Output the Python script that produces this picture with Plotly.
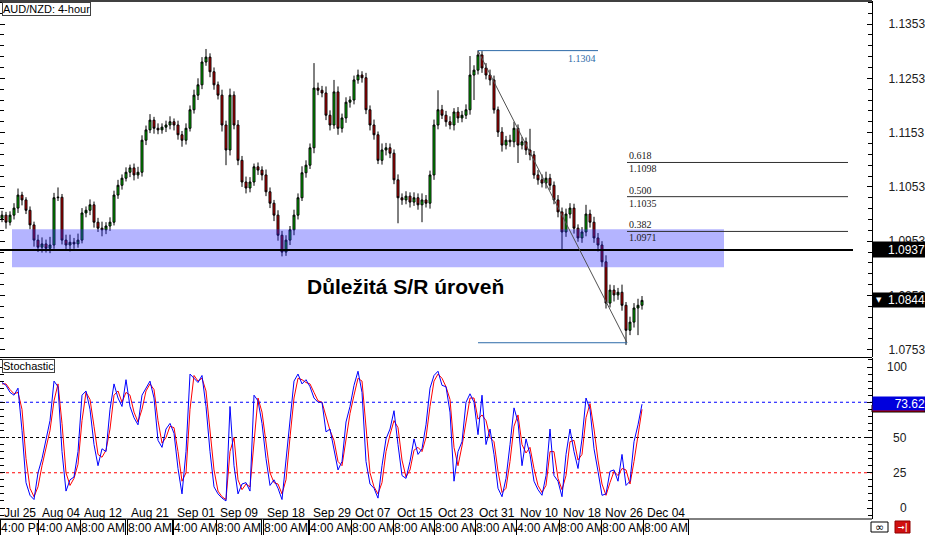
import plotly.graph_objects as go

# ---------------- data ----------------
closes = [
    1.1001, 1.0988, 1.1001, 1.1014, 1.1038, 1.1029, 1.1010, 1.0983, 1.0955, 1.0942,
    1.0948, 1.0940, 1.0946, 1.1033, 1.1034, 1.0955, 1.0946, 1.0951, 1.0948, 1.0955,
    1.1005, 1.1010, 1.1020, 1.0988, 1.0977, 1.0974, 1.0981, 1.0988, 1.1038, 1.1056,
    1.1069, 1.1080, 1.1088, 1.1075, 1.1080, 1.1139, 1.1158, 1.1176, 1.1161, 1.1158,
    1.1163, 1.1167, 1.1173, 1.1167, 1.1149, 1.1139, 1.1161, 1.1195, 1.1222, 1.1241,
    1.1283, 1.1292, 1.1265, 1.1241, 1.1222, 1.1167, 1.1121, 1.1222, 1.1167, 1.1102,
    1.1062, 1.1051, 1.1062, 1.1090, 1.1084, 1.1075, 1.1044, 1.1023, 1.1001, 1.0964,
    1.0933, 1.0955, 1.0974, 1.1001, 1.1033, 1.1079, 1.1093, 1.1125, 1.1235, 1.1231,
    1.1226, 1.1185, 1.1167, 1.1228, 1.1161, 1.1180, 1.1209, 1.1213, 1.1250, 1.1259,
    1.1254, 1.1195, 1.1167, 1.1149, 1.1102, 1.1121, 1.1125, 1.1115, 1.1066, 1.1033,
    1.1029, 1.1036, 1.1025, 1.1033, 1.1020, 1.1029, 1.1023, 1.1075, 1.1167, 1.1195,
    1.1185, 1.1173, 1.1167, 1.1191, 1.1180, 1.1185, 1.1195, 1.1259, 1.1268, 1.1296,
    1.1272, 1.1259, 1.1250, 1.1195, 1.1154, 1.1130, 1.1139, 1.1136, 1.1161, 1.1130,
    1.1136, 1.1121, 1.1112, 1.1075, 1.1066, 1.1060, 1.1069, 1.1056, 1.1029, 1.1007,
    1.0970, 1.1003, 1.1014, 1.0977, 1.0959, 1.0970, 1.1003, 1.0988, 1.0959, 1.0946,
    1.0915, 1.0839, 1.0863, 1.0854, 1.0859, 1.0835, 1.0789, 1.0804, 1.0830, 1.0835,
    1.0844,
]
first_open = 1.0995
upper_wick_pips = [
    8, 6, 7, 9, 12, 6, 5, 7, 6, 10,
    12, 8, 15, 9, 18, 6, 10, 14, 8, 12,
    9, 7, 10, 6, 8, 12, 7, 9, 8, 10,
    7, 9, 6, 8, 10, 9, 8, 11, 6, 9,
    7, 8, 10, 6, 8, 7, 9, 8, 10, 12,
    9, 15, 7, 8, 6, 10, 8, 12, 7, 9,
    8, 10, 9, 6, 8, 7, 10, 8, 6, 9,
    8, 9, 7, 10, 8, 12, 9, 8, 46, 10,
    8, 12, 9, 22, 10, 8, 9, 7, 8, 10,
    7, 9, 8, 10, 6, 12, 9, 8, 7, 10,
    8, 9, 7, 10, 8, 12, 9, 8, 10, 36,
    9, 8, 10, 7, 9, 8, 10, 35, 9, 8,
    7, 9, 10, 8, 6, 9, 8, 10, 12, 7,
    9, 8, 39, 7, 9, 10, 12, 8, 7, 9,
    8, 10, 9, 8, 7, 9, 17, 8, 10, 9,
    7, 12, 10, 9, 8, 14, 6, 10, 9, 12,
    8,
]
lower_wick_pips = [
    7, 12, 6, 8, 9, 10, 7, 8, 12, 9,
    10, 8, 9, 7, 6, 8, 10, 12, 9, 7,
    6, 8, 9, 10, 7, 12, 8, 9, 6, 7,
    8, 6, 9, 10, 7, 8, 9, 6, 10, 8,
    7, 9, 8, 10, 9, 12, 8, 6, 7, 9,
    8, 7, 10, 9, 8, 12, 28, 10, 8, 9,
    9, 10, 8, 7, 9, 10, 8, 9, 11, 10,
    8, 7, 9, 10, 8, 6, 9, 7, 10, 9,
    8, 9, 10, 7, 12, 8, 9, 10, 8, 7,
    9, 8, 10, 9, 7, 8, 10, 9, 8, 47,
    9, 8, 10, 7, 9, 32, 8, 10, 9, 8,
    7, 9, 8, 10, 9, 8, 7, 9, 46, 8,
    9, 8, 10, 7, 9, 12, 8, 9, 10, 33,
    8, 9, 10, 7, 9, 8, 10, 9, 8, 10,
    33, 9, 8, 10, 7, 9, 8, 10, 9, 12,
    9, 10, 8, 12, 9, 10, 27, 9, 10, 50,
    8,
]
stoch_k = [
    89, 87, 82, 80, 85, 55, 18, 9, 6, 25,
    35, 48, 62, 90, 86, 40, 12, 20, 22, 40,
    80, 83, 70, 45, 30, 42, 40, 70, 88, 78,
    72, 91, 72, 64, 59, 80, 85, 90, 78, 48,
    43, 56, 60, 53, 28, 10, 40, 95, 92, 89,
    94, 72, 40, 15, 10, 7, 5, 72, 30, 10,
    17, 18, 12, 80, 76, 60, 35, 16, 20, 14,
    6, 35, 65, 90, 95, 88, 91, 86, 78, 75,
    75, 54, 56, 40, 27, 33, 61, 72, 87, 97,
    82, 33, 17, 14, 7, 30, 49, 56, 69, 45,
    23, 21, 33, 49, 38, 42, 59, 85, 94, 97,
    87, 86, 68, 19, 40, 47, 75, 81, 75, 52,
    80, 45, 56, 38, 14, 8, 21, 45, 71, 61,
    30, 49, 38, 19, 13, 9, 23, 56, 23, 19,
    8, 38, 56, 40, 28, 49, 78, 70, 42, 26,
    9, 10, 26, 27, 19, 38, 16, 19, 47, 59,
    73.62,
]
stoch_d = [
    88, 88, 84, 81, 82, 70, 35, 14, 8, 15,
    30, 42, 55, 76, 88, 60, 25, 16, 21, 31,
    62, 82, 77, 58, 38, 36, 41, 56, 80, 83,
    75, 82, 80, 68, 61, 70, 83, 88, 84, 62,
    46, 50, 58, 57, 40, 19, 25, 70, 94, 90,
    92, 83, 56, 27, 12, 8, 6, 40, 50, 20,
    13, 17, 15, 48, 78, 68, 47, 25, 18, 17,
    10, 20, 50, 78, 92, 91, 89, 88, 82, 76,
    75, 64, 55, 48, 33, 30, 47, 67, 80, 92,
    90, 57, 25, 15, 10, 18, 40, 52, 62, 57,
    34, 22, 27, 41, 43, 40, 50, 72, 90, 95,
    92, 86, 77, 43, 30, 44, 61, 78, 78, 63,
    66, 62, 50, 47, 26, 11, 14, 33, 58, 66,
    45, 39, 43, 28, 16, 11, 16, 40, 40, 21,
    13, 23, 47, 48, 34, 38, 64, 74, 56, 34,
    17, 9, 18, 26, 23, 28, 27, 17, 33, 53,
    70,
]
price_ticks = [1.0753, 1.0853, 1.0953, 1.1053, 1.1153, 1.1253, 1.1353]
stoch_ticks = [0, 25, 50, 75, 100]
stoch_levels = [75, 50, 25]
date_labels = ["Jul 25", "Aug 04", "Aug 12", "Aug 21", "Sep 01", "Sep 09", "Sep 18", "Sep 29",
               "Oct 07", "Oct 15", "Oct 23", "Oct 31", "Nov 10", "Nov 18", "Nov 26", "Dec 04"]
date_idx = [0, 9.5, 20, 31.75, 43.25, 54, 65.75, 77.25, 87.75, 98.25, 108.5, 118.75,
            129, 139.75, 150.25, 160.75]
time_labels = ["4:00 PM", "4:00 AM", "8:00 AM", "8:00 AM", "4:00 AM", "8:00 AM", "8:00 AM",
               "4:00 AM", "8:00 AM", "8:00 AM", "8:00 AM", "8:00 AM", "4:00 AM", "8:00 AM",
               "8:00 AM", "8:00 AM"]
sr_level = 1.0937
sr_zone = [1.0905, 1.0975]
last_price = 1.0844
fib_high = 1.1304
fib_low = 1.0766
fib_high_idx = 119
fib_low_idx = 156.25
fib_ratios = ["0.382", "0.500", "0.618"]
fib_levels = [1.0971, 1.1035, 1.1098]

# ---------------- derived OHLC ----------------
n = len(closes)
xs = list(range(n))
opens = [first_open] + closes[:-1]
highs = [max(o, c) + u * 0.0001 for o, c, u in zip(opens, closes, upper_wick_pips)]
lows = [min(o, c) - d * 0.0001 for o, c, d in zip(opens, closes, lower_wick_pips)]

FONT = "Liberation Sans, Arial, sans-serif"
W, H = 925, 535
PL, PR, PT, PB = 0, 872, 1, 519      # plot area pixel box
PH = PB - PT

def px_x(px):
    return px / (PR - PL)

def px_y(py):
    return (PB - py) / PH

def idx(px):
    return (px - 2) / 4.0

fig = go.Figure()
fig.add_trace(go.Candlestick(
    x=xs, open=opens, high=highs, low=lows, close=closes,
    xaxis="x", yaxis="y",
    increasing=dict(line=dict(color="black", width=1), fillcolor="#00c800"),
    decreasing=dict(line=dict(color="black", width=1), fillcolor="#e00000"),
    whiskerwidth=0, showlegend=False, hoverinfo="skip",
))
fig.add_trace(go.Scatter(x=xs, y=stoch_d, mode="lines", line=dict(color="#ff0000", width=1),
                         xaxis="x2", yaxis="y2", showlegend=False, hoverinfo="skip"))
fig.add_trace(go.Scatter(x=xs, y=stoch_k, mode="lines", line=dict(color="#0000ff", width=1),
                         xaxis="x2", yaxis="y2", showlegend=False, hoverinfo="skip"))

xr = [idx(PL), idx(PR)]
main_dom = [px_y(357), 1]
stoch_dom = [0, px_y(358)]
main_rng = [1.1353 - (357 - 24) / 5430.0, 1.1353 + (24 - PT) / 5430.0]
stoch_rng = [-(PB - 508) / 1.41, (508 - 358) / 1.41]

axis_common = dict(showgrid=False, zeroline=False, fixedrange=True)
fig.update_layout(
    width=W, height=H,
    margin=dict(l=PL, r=W - PR, t=PT, b=H - PB, pad=0),
    paper_bgcolor="white", plot_bgcolor="white",
    font=dict(family=FONT, size=12, color="black"),
    xaxis=dict(domain=[0, 1], range=xr, anchor="y", showticklabels=False, ticks="",
               rangeslider=dict(visible=False), **axis_common),
    xaxis2=dict(domain=[0, 1], range=xr, anchor="y2", matches="x", showticklabels=False,
                ticks="", **axis_common),
    yaxis=dict(domain=main_dom, range=main_rng, side="right", anchor="x",
               tickmode="array", tickvals=price_ticks,
               ticktext=[f"{v:.4f}" for v in price_ticks],
               ticks="inside", ticklen=5, tickcolor="black", showline=True, linecolor="black",
               linewidth=1, mirror="ticks", ticklabelstandoff=13,
               tickfont=dict(size=12, color="#202020"), automargin=False,
               minor=dict(tickmode="linear", tick0=1.0753, dtick=0.002, ticks="inside",
                          ticklen=4, tickcolor="black"),
               **axis_common),
    yaxis2=dict(domain=stoch_dom, range=stoch_rng, side="right", anchor="x2",
                tickmode="array", tickvals=stoch_ticks, showticklabels=False,
                ticks="inside", ticklen=5, tickcolor="black", showline=True, linecolor="black",
                linewidth=1, mirror="ticks", automargin=False,
                minor=dict(tickmode="linear", tick0=0, dtick=5, ticks="inside", ticklen=4,
                           tickcolor="black"),
                **axis_common),
)

shapes = []
# S/R zone and line
shapes.append(dict(type="rect", xref="x", yref="y", x0=idx(12), x1=idx(724),
                   y0=sr_zone[0], y1=sr_zone[1], fillcolor="rgba(40,40,255,0.35)",
                   line=dict(width=0), layer="above"))
shapes.append(dict(type="line", xref="x", yref="y", x0=xr[0], x1=idx(853),
                   y0=sr_level, y1=sr_level, line=dict(color="black", width=2), layer="above"))
# Fibonacci
shapes.append(dict(type="line", xref="x", yref="y", x0=fib_high_idx, x1=fib_low_idx,
                   y0=fib_high, y1=fib_low, line=dict(color="#505050", width=1), layer="above"))
shapes.append(dict(type="line", xref="x", yref="y", x0=fib_high_idx, x1=idx(598),
                   y0=fib_high, y1=fib_high, line=dict(color="#2d6aa8", width=1), layer="above"))
shapes.append(dict(type="line", xref="x", yref="y", x0=fib_high_idx, x1=fib_low_idx,
                   y0=fib_low, y1=fib_low, line=dict(color="#2d6aa8", width=1), layer="above"))
for lv in fib_levels:
    shapes.append(dict(type="line", xref="x", yref="y", x0=fib_low_idx, x1=idx(848),
                       y0=lv, y1=lv, line=dict(color="#303030", width=1), layer="above"))
# stochastic levels
for lv, col in zip(stoch_levels, ["#0000ff", "#000000", "#ff0000"]):
    shapes.append(dict(type="line", xref="paper", yref="y2", x0=0, x1=1, y0=lv, y1=lv,
                       line=dict(color=col, width=1, dash="dot"), layer="below"))
# frame lines
shapes.append(dict(type="line", xref="paper", yref="paper", x0=0, x1=1, y0=px_y(357.5),
                   y1=px_y(357.5), line=dict(color="black", width=1)))
shapes.append(dict(type="line", xref="paper", yref="paper", x0=0, x1=1, y0=1, y1=1,
                   line=dict(color="black", width=1.5)))
shapes.append(dict(type="line", xref="paper", yref="paper", x0=0, x1=1, y0=0, y1=0,
                   line=dict(color="black", width=1)))
# red stoch value strip under blue box
shapes.append(dict(type="rect", xref="paper", yref="paper", x0=1.0, x1=px_x(925),
                   y0=px_y(412), y1=px_y(405), fillcolor="#d00000",
                   line=dict(color="black", width=1)))
# bottom-right icons
shapes.append(dict(type="rect", xref="paper", yref="paper", x0=px_x(871), x1=px_x(888),
                   y0=px_y(532), y1=px_y(522), fillcolor="white",
                   line=dict(color="black", width=1)))
shapes.append(dict(type="rect", xref="paper", yref="paper", x0=px_x(895), x1=px_x(910),
                   y0=px_y(533), y1=px_y(521), fillcolor="#d01010",
                   line=dict(color="#900000", width=1)))

ann = []
ann.append(dict(text="AUD/NZD: 4-hour", xref="paper", yref="paper", x=px_x(2), y=px_y(2),
                xanchor="left", yanchor="top", showarrow=False, bgcolor="white",
                bordercolor="#404040", borderwidth=1, borderpad=0,
                font=dict(size=11, family=FONT)))
ann.append(dict(text="Stochastic", xref="paper", yref="paper", x=px_x(2), y=px_y(359),
                xanchor="left", yanchor="top", showarrow=False, bgcolor="white",
                bordercolor="#404040", borderwidth=1, borderpad=0,
                font=dict(size=11, family=FONT)))
ann.append(dict(text="<b>Důležitá S/R úroveň</b>", xref="paper", yref="paper",
                x=px_x(405), y=px_y(286), xanchor="center", yanchor="middle",
                showarrow=False, font=dict(size=21, family=FONT, color="black")))
# fib labels
for r, lv in zip(fib_ratios, fib_levels):
    ann.append(dict(text=r, xref="x", yref="y", x=fib_low_idx, y=lv, xanchor="left",
                    yanchor="bottom", showarrow=False, yshift=-1,
                    font=dict(size=10, family="Liberation Serif, serif", color="#202020")))
    ann.append(dict(text=f"{lv:.4f}", xref="x", yref="y", x=fib_low_idx, y=lv, xanchor="left",
                    yanchor="top", showarrow=False, yshift=1,
                    font=dict(size=10, family="Liberation Serif, serif", color="#202020")))
ann.append(dict(text=f"{fib_high:.4f}", xref="x", yref="y", x=idx(598), y=fib_high,
                xanchor="right", yanchor="top", showarrow=False, yshift=0,
                font=dict(size=10, family="Liberation Serif, serif", color="#2d6aa8")))
# date labels
for d, t in zip(date_idx, date_labels):
    ann.append(dict(text=t, xref="x", yref="paper", x=d, y=px_y(513), xanchor="left",
                    yanchor="middle", showarrow=False, font=dict(size=12, family=FONT)))
# time labels (each with a white box and a left separator that hides the previous one)
for d, t in zip(date_idx, time_labels):
    ann.append(dict(text=t, xref="x", yref="paper", x=d - 0.5, y=px_y(528), xanchor="left",
                    yanchor="middle", showarrow=False, bgcolor="white", borderpad=0,
                    bordercolor="black", borderwidth=1, height=16, align="left",
                    font=dict(size=12, family=FONT)))
# stoch axis labels (right aligned)
for v in stoch_ticks:
    ann.append(dict(text=str(v), xref="paper", yref="y2", x=px_x(909), y=v, xanchor="right",
                    yanchor="middle", showarrow=False, font=dict(size=12, family=FONT,
                                                                  color="#202020")))
# price boxes
ann.append(dict(text=f"{sr_level:.4f}", xref="paper", yref="y", x=1.0, y=sr_level,
                xanchor="left", yanchor="middle", showarrow=False, bgcolor="black",
                width=51, height=13, align="right", borderpad=1,
                font=dict(size=12, family=FONT, color="white")))
ann.append(dict(text=f"{last_price:.4f}", xref="paper", yref="y", x=1.0, y=last_price,
                xanchor="left", yanchor="middle", showarrow=False, bgcolor="black",
                width=51, height=12, align="right", borderpad=1,
                font=dict(size=12, family=FONT, color="white")))
ann.append(dict(text="▼", xref="paper", yref="y", x=px_x(874), y=last_price,
                xanchor="left", yanchor="middle", showarrow=False,
                font=dict(size=7, family="DejaVu Sans", color="white")))
ann.append(dict(text=f"{stoch_k[-1]:.2f}", xref="paper", yref="paper", x=1.0, y=px_y(403),
                xanchor="left", yanchor="middle", showarrow=False, bgcolor="#0000dd",
                width=51, height=11, align="right", borderpad=1,
                font=dict(size=12, family=FONT, color="white")))
# icons text
ann.append(dict(text="∞", xref="paper", yref="paper", x=px_x(879.5), y=px_y(527),
                xanchor="center", yanchor="middle", showarrow=False,
                font=dict(size=11, family="DejaVu Sans", color="black")))
ann.append(dict(text="<b>→|</b>", xref="paper", yref="paper", x=px_x(902.5), y=px_y(527),
                xanchor="center", yanchor="middle", showarrow=False,
                font=dict(size=8, family="DejaVu Sans", color="white")))

fig.update_layout(shapes=shapes, annotations=ann)
fig.write_html("out.html", config={"displayModeBar": False, "staticPlot": True},
               post_script="document.body.style.margin='0';document.body.style.overflow='hidden';")
